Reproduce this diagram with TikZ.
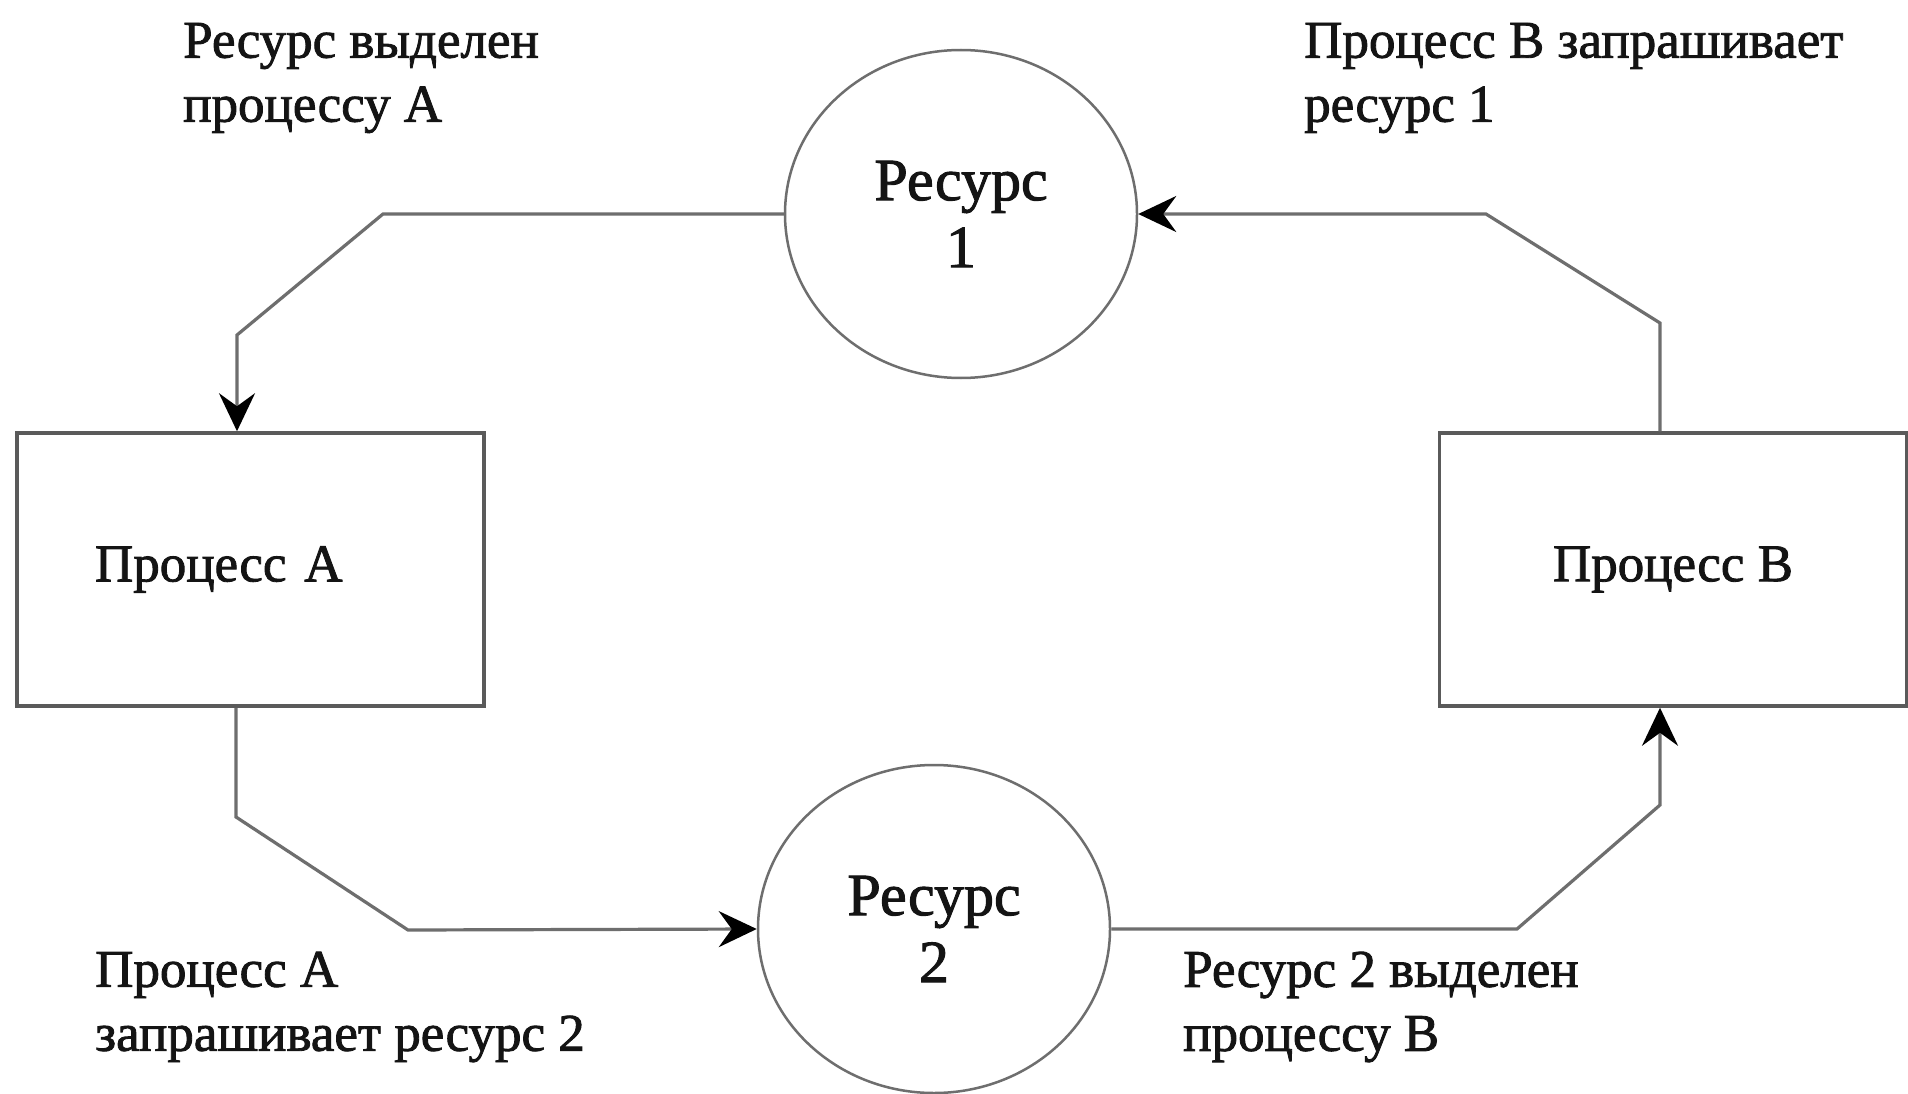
\documentclass[tikz,border=0pt]{standalone}
\usepackage{fontspec}
\setmainfont{Liberation Serif}[FakeBold=1.2]
\newfontfamily\hvyfont{Liberation Serif}[FakeBold=1.6]
\usetikzlibrary{shapes.geometric,arrows.meta}
\definecolor{linegray}{HTML}{6E6E6E}
\definecolor{boxgray}{HTML}{5A5A5A}
\definecolor{txt}{HTML}{141414}
\begin{document}
\begin{tikzpicture}[x=1pt,y=-1pt,
  every node/.style={text=txt,font=\hvyfont\fontsize{53}{64}\selectfont},
  res/.style={ellipse,draw=linegray,line width=2.5pt,inner sep=0pt,align=center,
    minimum width=352pt,minimum height=328pt,font=\hvyfont\fontsize{60}{67}\selectfont},
  proc/.style={rectangle,draw=boxgray,line width=3.5pt,minimum width=467pt,minimum height=273pt},
  conn/.style={draw=linegray,line width=3.2pt},
  tipc/.style={-{Stealth[length=38pt,width=36pt,inset=13pt,black]}},
  lbl/.style={anchor=west,align=left,inner sep=0pt}
]
\useasboundingbox (0,0) rectangle (1908,1094);
\fill[white] (0,0) rectangle (1908,1094);

\node[res] (r1) at (961,214) {Ресурс\\1};
\node[res] (r2) at (934,929) {Ресурс\\2};
\node[proc,text width=311pt,align=left,inner xsep=78pt] (pa) at (250.5,569.5) {\raisebox{6pt}{Процесс А}};
\node[proc] (pb) at (1673,569.5) {\raisebox{4pt}{Процесс В}};

\node[lbl] (t1) at (183,78) {Ресурс выделен\\процессу А};
\node[lbl] (t2) at (1304,78) {Процесс В запрашивает\\ресурс 1};
\node[lbl] (t3) at (95,1007) {Процесс А\\запрашивает ресурс 2};
\node[lbl] (t4) at (1183,1007) {Ресурс 2 выделен\\процессу В};

\coordinate (c1) at (383,214);
\coordinate (c2) at (237,335);
\coordinate (c3) at (1660,323);
\coordinate (c4) at (1486,214);
\coordinate (c5) at (236,817);
\coordinate (c6) at (408,930);
\coordinate (c7) at (1517,929);
\coordinate (c8) at (1660,805);

\draw[conn,tipc] (r1.west) -- (c1) -- (c2) -- (c2 |- pa.north);
\draw[conn,tipc] (c3 |- pb.north) -- (c3) -- (c4) -- (r1.east);
\draw[conn,tipc] (c5 |- pa.south) -- (c5) -- (c6) -- (r2.west);
\draw[conn,tipc] (r2.east) -- (c7) -- (c8) -- (c8 |- pb.south);
\end{tikzpicture}
\end{document}
